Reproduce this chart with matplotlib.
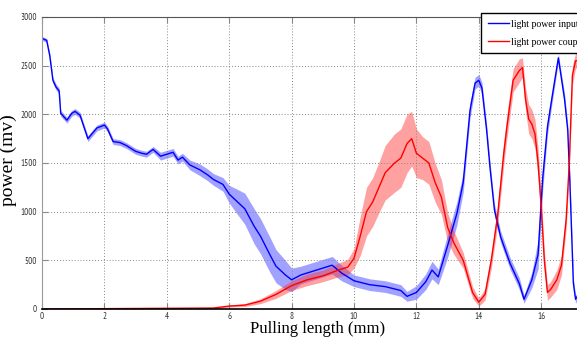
import numpy as np
import matplotlib
matplotlib.use("Agg")
import matplotlib.pyplot as plt

# values
blue_x = [0, 0.15, 0.25, 0.35, 0.45, 0.55, 0.6, 0.8, 0.95, 1.06, 1.22, 1.47, 1.6, 1.76,
          2.0, 2.1, 2.28, 2.5, 2.7, 3.0, 3.2, 3.35, 3.56, 3.8, 4.0, 4.2, 4.36, 4.5, 4.74,
          5.06, 5.3, 5.5, 5.8, 6.0, 6.2, 6.5, 6.8, 7.0, 7.3, 7.5, 7.8, 8.0, 8.3, 8.6, 9.0,
          9.3, 9.6, 10.0, 10.5, 11.0, 11.5, 11.7, 12.0, 12.3, 12.5, 12.7, 13.0, 13.3, 13.5,
          13.72, 13.88, 14.0, 14.1, 14.25, 14.36, 14.5, 14.7, 15.0, 15.3, 15.45, 15.7, 15.9,
          16.0, 16.05, 16.2, 16.35, 16.55, 16.75, 16.85, 16.92, 17.03, 17.1, 17.2]
blue_y = [2780, 2760, 2600, 2350, 2280, 2240, 2010, 1940, 2010, 2030, 1990, 1750, 1800, 1860,
          1890, 1850, 1720, 1710, 1680, 1620, 1600, 1590, 1640, 1570, 1590, 1610, 1530, 1560, 1480,
          1430, 1380, 1330, 1280, 1180, 1120, 1030, 850, 750, 560, 440, 350, 300, 350, 380, 420,
          450, 370, 290, 250, 230, 190, 130, 170, 280, 400, 330, 650, 985, 1300,
          2045, 2320, 2350, 2270, 1840, 1450, 1020, 740, 470, 260, 100, 300, 560,
          1100, 1350, 1870, 2180, 2580, 2150, 1840, 1300, 270, 100, 150]
blue_noise = [20, 20, 30, 30, 30, 30, 30, 30, 30, 30, 30, 30, 30, 30,
              30, 30, 30, 30, 30, 30, 30, 30, 30, 40, 40, 40, 40, 40, 50,
              60, 60, 60, 70, 90, 120, 160, 180, 180, 180, 170, 150, 120, 90, 90, 90,
              90, 80, 60, 60, 60, 60, 50, 70, 80, 90, 80, 120, 120, 100,
              80, 60, 60, 60, 60, 60, 60, 60, 60, 60, 40, 80, 150,
              150, 120, 80, 60, 40, 60, 60, 60, 50, 40, 40]

red_x = [0, 5.5, 6.0, 6.5, 7.0, 7.5, 8.0, 8.5, 9.0, 9.5, 9.8, 10.0, 10.2, 10.4, 10.6, 10.8,
         11.0, 11.3, 11.5, 11.7, 11.85, 12.0, 12.2, 12.4, 12.6, 12.8, 13.0, 13.2, 13.5, 13.8,
         14.0, 14.2, 14.4, 14.6, 14.8, 14.9, 15.1, 15.3, 15.4, 15.5, 15.6, 15.7, 15.8, 15.9,
         16.0, 16.1, 16.2, 16.3, 16.5, 16.65, 16.8, 16.9, 17.0, 17.1, 17.2]
red_y = [0, 10, 30, 40, 80, 150, 240, 300, 340, 400, 430, 520, 750, 1000, 1100, 1250,
         1400, 1500, 1550, 1700, 1750, 1600, 1550, 1500, 1300, 1150, 840, 680, 500, 170,
         70, 150, 500, 950, 1600, 1870, 2350, 2450, 2480, 2150, 1950, 1900, 1800, 1500,
         1050, 500, 170, 200, 300, 450, 920, 1500, 2400, 2550, 2550]
red_noise = [0, 5, 10, 15, 25, 40, 50, 60, 60, 70, 80, 100, 200, 250, 250, 260,
             280, 300, 300, 300, 280, 250, 220, 220, 200, 180, 150, 120, 80, 60,
             40, 60, 80, 100, 120, 120, 120, 120, 100, 120, 150, 150, 150, 150,
             120, 100, 80, 80, 100, 100, 100, 100, 100, 80, 60]

fig = plt.figure(figsize=(5.77, 3.38), dpi=100)
# axes run past the right edge of the picture, as in the cropped original
ax = fig.add_axes([42 / 577, 29 / 338, 561.6 / 577, 292 / 338])

bx = np.array(blue_x)
by = np.array(blue_y)
bn = np.array(blue_noise)
rx = np.array(red_x)
ry = np.array(red_y)
rn = np.array(red_noise)

ax.fill_between(bx, np.clip(by - bn, 0, None), by + bn, color="#3030ff", alpha=0.45, lw=0)
ax.fill_between(rx, np.clip(ry - rn, 0, None), ry + rn, color="#ff3030", alpha=0.45, lw=0)
l1, = ax.plot(bx, by, color="blue", lw=1.0, label="light power input")
l2, = ax.plot(rx, ry, color="red", lw=1.0, label="light power coupled")

ax.set_xlim(0, 18)
ax.set_ylim(0, 3000)
ax.set_xticks(range(0, 17, 2))
ax.set_yticks(range(0, 3001, 500))
ax.grid(True, linestyle=(0, (1, 2)), color="#888888", lw=0.7)

ax.tick_params(direction="in", length=4, color="#888888", labelsize=6.5,
               labelcolor="#333333", top=True, right=False)
ax.tick_params(axis="x", pad=2)
for lab in ax.get_xticklabels() + ax.get_yticklabels():
    lab.set_family(["PT Sans Narrow", "DejaVu Sans"])

ax.spines["left"].set_color("#999999")
ax.spines["top"].set_color("#555555")
ax.spines["bottom"].set_color("black")
ax.spines["bottom"].set_linewidth(1.2)
ax.spines["right"].set_visible(False)

fig.text(318 / 577, 9 / 338, "Pulling length (mm)", ha="center", va="center",
         fontsize=12, family="Liberation Serif")
fig.text(8 / 577, 0.525, "power (mv)", ha="center", va="center", rotation=90,
         fontsize=14, family="Liberation Serif")

leg = fig.legend(handles=[l1, l2], loc="upper left", bbox_to_anchor=(481 / 577, 1 - 13 / 338),
                 prop={"family": "Liberation Serif", "size": 7}, fancybox=False,
                 framealpha=1, edgecolor="black", handlelength=2.2, borderaxespad=0,
                 labelspacing=0.9, handletextpad=0.2, borderpad=0.7)
leg.get_frame().set_linewidth(1.0)

fig.savefig("out.png", dpi=100)
